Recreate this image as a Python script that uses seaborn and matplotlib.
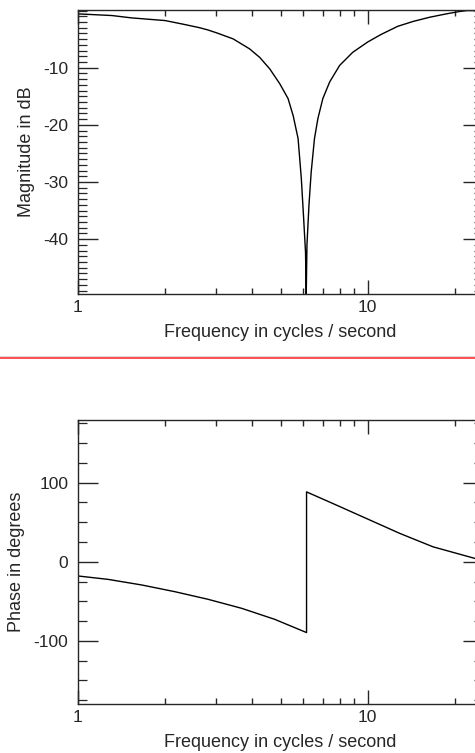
import numpy as np
import pandas as pd
import matplotlib
matplotlib.use('Agg')
import matplotlib.pyplot as plt
import seaborn as sns
from matplotlib.lines import Line2D
from matplotlib.ticker import FixedLocator, NullFormatter

# valores (modulo em dB)
freq_mag = [1.0, 1.31, 1.53, 2.0, 2.34, 2.63, 2.81, 3.01, 3.43, 3.91, 4.24, 4.59,
            4.97, 5.31, 5.53, 5.75, 5.90, 6.01, 6.10, 6.135, 6.17, 6.27, 6.38,
            6.55, 6.73, 7.0, 7.39, 8.0, 8.88, 10.0, 11.1, 12.7, 14.35, 16.35,
            18.67, 20.7, 22.0, 25.0]
mag_db = [-0.58, -0.87, -1.28, -1.75, -2.45, -3.0, -3.4, -3.9, -4.95, -6.7, -8.2,
          -10.2, -12.8, -15.4, -18.4, -22.4, -29.4, -36.4, -42.3, -49.6, -41.0,
          -34.0, -28.3, -22.4, -18.9, -15.4, -12.5, -9.6, -7.3, -5.5, -4.2,
          -2.75, -1.9, -1.17, -0.58, -0.17, 0.0, 0.0]

# fase em graus (salto de -90 para +90 no zero)
freq_fase = [1.0, 1.27, 1.66, 2.16, 2.81, 3.67, 4.77, 6.15, 6.15, 7.58, 9.89,
             12.9, 16.8, 23.4, 25.0]
fase_graus = [-18.0, -22.3, -29.4, -37.9, -47.5, -58.9, -72.8, -89.6, 88.4,
              73.7, 54.8, 35.9, 18.9, 4.3, 0.0]

rotulo_x = 'Frequency in cycles / second'

sns.set_style('ticks')
plt.rcParams['font.family'] = ['Liberation Sans', 'DejaVu Sans']
plt.rcParams['axes.unicode_minus'] = False

fig = plt.figure(figsize=(4.75, 7.53), dpi=100)
W, H = 475.0, 753.0

# eixos (a borda direita passa um pouco da figura, como no original)
ax1 = fig.add_axes([78 / W, 1 - 294 / H, (483 - 78) / W, 284 / H])
ax2 = fig.add_axes([78 / W, 1 - 704 / H, (483 - 78) / W, 284.5 / H])

tab_mag = pd.DataFrame({'f': freq_mag, 'db': mag_db})
tab_fase = pd.DataFrame({'f': freq_fase, 'fase': fase_graus})

# estimator=None pra nao tirar media dos pontos repetidos no salto
sns.lineplot(data=tab_mag, x='f', y='db', sort=False, estimator=None,
             color='black', linewidth=1.0, ax=ax1)
sns.lineplot(data=tab_fase, x='f', y='fase', sort=False, estimator=None,
             color='black', linewidth=1.0, ax=ax2)

for ax in (ax1, ax2):
    ax.set_xscale('log')
    ax.set_xlim(1, 25)
    ax.xaxis.set_major_locator(FixedLocator([1, 10]))
    ax.set_xticklabels(['1', '10'])
    ax.xaxis.set_minor_locator(FixedLocator([2, 3, 4, 5, 6, 7, 8, 9, 20]))
    ax.xaxis.set_minor_formatter(NullFormatter())
    ax.tick_params(axis='x', which='major', direction='in', length=10,
                   width=1.0, top=True, pad=4, labelsize=12.5)
    ax.tick_params(axis='x', which='minor', direction='in', length=4.5,
                   width=1.0, top=True)
    ax.tick_params(axis='y', which='major', direction='in', length=14.4,
                   width=1.0, right=True, pad=7, labelsize=12.5)
    ax.tick_params(axis='y', which='minor', direction='in', length=6.5,
                   width=0.9, right=True)
    for lado in ax.spines.values():
        lado.set_linewidth(1.0)
        lado.set_visible(True)
    ax.set_xlabel(rotulo_x, fontsize=13, labelpad=7)

ax1.set_ylim(-49.6, 0.1)
ax1.yaxis.set_major_locator(FixedLocator([-40, -30, -20, -10]))
ax1.yaxis.set_minor_locator(FixedLocator(np.arange(-49, 1, 1)))
ax1.set_ylabel('Magnitude in dB', fontsize=13, labelpad=6)

ax2.set_ylim(-180, 180)
ax2.yaxis.set_major_locator(FixedLocator([-100, 0, 100]))
ax2.yaxis.set_minor_locator(FixedLocator(np.arange(-175, 200, 25)))
ax2.set_ylabel('Phase in degrees', fontsize=13, labelpad=6)

# linha vermelha separando os dois graficos
fig.add_artist(Line2D([0, 1], [1 - 355.7 / H] * 2, color='#d8d8d8', linewidth=0.8))
fig.add_artist(Line2D([0, 1], [1 - 357.7 / H] * 2, color='#ff3030', linewidth=1.2))

fig.savefig('out.png', dpi=100)
